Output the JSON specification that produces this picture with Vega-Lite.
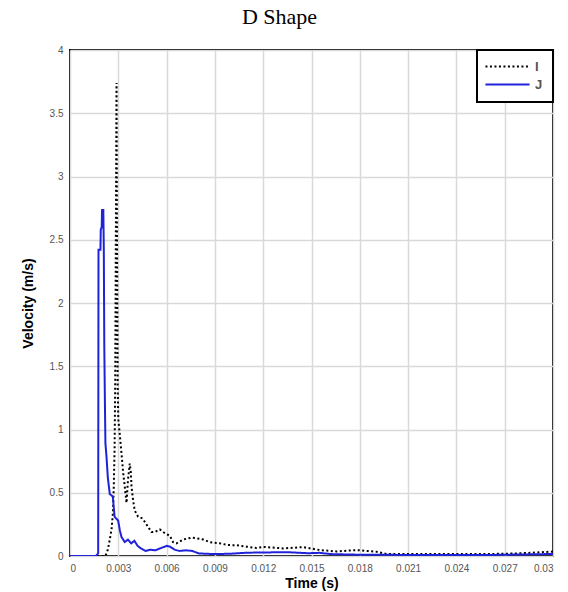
{
  "$schema": "https://vega.github.io/schema/vega-lite/v6.json",
  "width": 483,
  "height": 506,
  "autosize": {"type": "none"},
  "padding": {"left": 70, "top": 50, "right": 15, "bottom": 36},
  "background": "white",
  "title": {"text": "D Shape", "font": "Liberation Serif", "fontSize": 22, "fontWeight": "normal", "color": "#000", "offset": 16, "dx": -32, "anchor": "middle"},
  "data": {"values": [
    {"t": 0, "v": 0, "s": "I"},
    {"t": 0.0022, "v": 0, "s": "I"},
    {"t": 0.00235, "v": 0.05, "s": "I"},
    {"t": 0.00247, "v": 0.13, "s": "I"},
    {"t": 0.00258, "v": 0.21, "s": "I"},
    {"t": 0.00266, "v": 0.33, "s": "I"},
    {"t": 0.00272, "v": 0.55, "s": "I"},
    {"t": 0.00277, "v": 0.85, "s": "I"},
    {"t": 0.00281, "v": 1.4, "s": "I"},
    {"t": 0.00285, "v": 2.6, "s": "I"},
    {"t": 0.00289, "v": 3.74, "s": "I"},
    {"t": 0.00292, "v": 2.4, "s": "I"},
    {"t": 0.00296, "v": 1.35, "s": "I"},
    {"t": 0.003, "v": 1.08, "s": "I"},
    {"t": 0.0031, "v": 0.95, "s": "I"},
    {"t": 0.0032, "v": 0.81, "s": "I"},
    {"t": 0.0033, "v": 0.66, "s": "I"},
    {"t": 0.0034, "v": 0.55, "s": "I"},
    {"t": 0.00351, "v": 0.42, "s": "I"},
    {"t": 0.0036, "v": 0.6, "s": "I"},
    {"t": 0.00371, "v": 0.73, "s": "I"},
    {"t": 0.00378, "v": 0.66, "s": "I"},
    {"t": 0.00382, "v": 0.55, "s": "I"},
    {"t": 0.00392, "v": 0.44, "s": "I"},
    {"t": 0.00402, "v": 0.36, "s": "I"},
    {"t": 0.00423, "v": 0.31, "s": "I"},
    {"t": 0.00445, "v": 0.3, "s": "I"},
    {"t": 0.00465, "v": 0.27, "s": "I"},
    {"t": 0.00485, "v": 0.23, "s": "I"},
    {"t": 0.00506, "v": 0.19, "s": "I"},
    {"t": 0.00527, "v": 0.19, "s": "I"},
    {"t": 0.00558, "v": 0.21, "s": "I"},
    {"t": 0.00589, "v": 0.18, "s": "I"},
    {"t": 0.0062, "v": 0.16, "s": "I"},
    {"t": 0.0064, "v": 0.11, "s": "I"},
    {"t": 0.00661, "v": 0.1, "s": "I"},
    {"t": 0.00702, "v": 0.13, "s": "I"},
    {"t": 0.00755, "v": 0.145, "s": "I"},
    {"t": 0.00817, "v": 0.135, "s": "I"},
    {"t": 0.00868, "v": 0.11, "s": "I"},
    {"t": 0.0093, "v": 0.1, "s": "I"},
    {"t": 0.0098, "v": 0.087, "s": "I"},
    {"t": 0.01034, "v": 0.085, "s": "I"},
    {"t": 0.01096, "v": 0.074, "s": "I"},
    {"t": 0.01158, "v": 0.063, "s": "I"},
    {"t": 0.012, "v": 0.072, "s": "I"},
    {"t": 0.01324, "v": 0.06, "s": "I"},
    {"t": 0.01448, "v": 0.07, "s": "I"},
    {"t": 0.01552, "v": 0.047, "s": "I"},
    {"t": 0.01655, "v": 0.036, "s": "I"},
    {"t": 0.0178, "v": 0.047, "s": "I"},
    {"t": 0.01904, "v": 0.034, "s": "I"},
    {"t": 0.01966, "v": 0.016, "s": "I"},
    {"t": 0.0215, "v": 0.016, "s": "I"},
    {"t": 0.0236, "v": 0.015, "s": "I"},
    {"t": 0.0257, "v": 0.015, "s": "I"},
    {"t": 0.0277, "v": 0.02, "s": "I"},
    {"t": 0.0287, "v": 0.026, "s": "I"},
    {"t": 0.0298, "v": 0.034, "s": "I"},
    {"t": 0.03, "v": 0.035, "s": "I"},
    {"t": 0, "v": 0, "s": "J"},
    {"t": 0.0016, "v": 0, "s": "J"},
    {"t": 0.00175, "v": 0.02, "s": "J"},
    {"t": 0.00177, "v": 2.42, "s": "J"},
    {"t": 0.00189, "v": 2.42, "s": "J"},
    {"t": 0.00191, "v": 2.58, "s": "J"},
    {"t": 0.00197, "v": 2.6, "s": "J"},
    {"t": 0.00199, "v": 2.735, "s": "J"},
    {"t": 0.00207, "v": 2.735, "s": "J"},
    {"t": 0.0021, "v": 2.42, "s": "J"},
    {"t": 0.00213, "v": 1.66, "s": "J"},
    {"t": 0.00217, "v": 1.2, "s": "J"},
    {"t": 0.0022, "v": 0.89, "s": "J"},
    {"t": 0.00227, "v": 0.78, "s": "J"},
    {"t": 0.00235, "v": 0.62, "s": "J"},
    {"t": 0.00247, "v": 0.49, "s": "J"},
    {"t": 0.00266, "v": 0.47, "s": "J"},
    {"t": 0.00277, "v": 0.31, "s": "J"},
    {"t": 0.00299, "v": 0.28, "s": "J"},
    {"t": 0.0031, "v": 0.2, "s": "J"},
    {"t": 0.0032, "v": 0.15, "s": "J"},
    {"t": 0.0034, "v": 0.11, "s": "J"},
    {"t": 0.0036, "v": 0.13, "s": "J"},
    {"t": 0.0038, "v": 0.1, "s": "J"},
    {"t": 0.004, "v": 0.12, "s": "J"},
    {"t": 0.0042, "v": 0.08, "s": "J"},
    {"t": 0.0044, "v": 0.06, "s": "J"},
    {"t": 0.0047, "v": 0.04, "s": "J"},
    {"t": 0.005, "v": 0.05, "s": "J"},
    {"t": 0.0053, "v": 0.045, "s": "J"},
    {"t": 0.0057, "v": 0.065, "s": "J"},
    {"t": 0.006, "v": 0.08, "s": "J"},
    {"t": 0.0062, "v": 0.075, "s": "J"},
    {"t": 0.0065, "v": 0.05, "s": "J"},
    {"t": 0.0068, "v": 0.04, "s": "J"},
    {"t": 0.0072, "v": 0.045, "s": "J"},
    {"t": 0.0076, "v": 0.04, "s": "J"},
    {"t": 0.008, "v": 0.02, "s": "J"},
    {"t": 0.009, "v": 0.015, "s": "J"},
    {"t": 0.01, "v": 0.018, "s": "J"},
    {"t": 0.011, "v": 0.026, "s": "J"},
    {"t": 0.012, "v": 0.028, "s": "J"},
    {"t": 0.0135, "v": 0.03, "s": "J"},
    {"t": 0.0148, "v": 0.022, "s": "J"},
    {"t": 0.0155, "v": 0.025, "s": "J"},
    {"t": 0.0162, "v": 0.015, "s": "J"},
    {"t": 0.018, "v": 0.01, "s": "J"},
    {"t": 0.022, "v": 0.008, "s": "J"},
    {"t": 0.026, "v": 0.008, "s": "J"},
    {"t": 0.028, "v": 0.012, "s": "J"},
    {"t": 0.03, "v": 0.016, "s": "J"}
  ]},
  "mark": {"type": "line", "strokeWidth": 2, "clip": true},
  "encoding": {
    "x": {"field": "t", "type": "quantitative",
      "scale": {"domain": [0, 0.03], "nice": false, "zero": false},
      "axis": {"values": [0, 0.003, 0.006, 0.009, 0.012, 0.015, 0.018, 0.021, 0.024, 0.027, 0.03], "format": ".3~f", "title": "Time (s)", "labelPadding": 7, "titlePadding": 3}},
    "y": {"field": "v", "type": "quantitative",
      "scale": {"domain": [0, 4], "nice": false},
      "axis": {"values": [0, 0.5, 1, 1.5, 2, 2.5, 3, 3.5, 4], "format": ".1~f", "title": "Velocity (m/s)", "labelPadding": 7, "titlePadding": 14}},
    "color": {"field": "s", "type": "nominal",
      "scale": {"domain": ["I", "J"], "range": ["#000000", "#1f22d9"]},
      "legend": {"title": null, "orient": "top-right", "offset": 0, "symbolType": "M-4.9,0H4.9", "symbolSize": 81, "symbolOffset": 14, "labelOffset": 21, "symbolStrokeWidth": 2, "labelFont": "Liberation Sans", "labelFontSize": 13, "labelFontWeight": "bold", "labelColor": "#555", "strokeColor": "#000", "fillColor": "white", "padding": 10, "rowPadding": 4}},
    "strokeDash": {"field": "s", "type": "nominal",
      "scale": {"domain": ["I", "J"], "range": [[2, 2.5], [1, 0]]},
      "legend": {"title": null, "orient": "top-right", "offset": 0, "symbolType": "M-4.9,0H4.9", "symbolSize": 81, "symbolOffset": 14, "labelOffset": 21, "symbolStrokeWidth": 2, "labelFont": "Liberation Sans", "labelFontSize": 13, "labelFontWeight": "bold", "labelColor": "#555", "strokeColor": "#000", "fillColor": "white", "padding": 10, "rowPadding": 4}}
  },
  "config": {
    "view": {"stroke": "#000", "strokeWidth": 2},
    "axis": {"grid": true, "gridColor": "#d9d9d9", "gridWidth": 1.5, "domain": false, "ticks": false,
      "labelFont": "Liberation Sans", "labelFontSize": 10, "labelColor": "#555",
      "titleFont": "Liberation Sans", "titleFontSize": 14, "titleFontWeight": "bold", "titleColor": "#000"},
    "legend": {"strokeWidth": 2}
  }
}
